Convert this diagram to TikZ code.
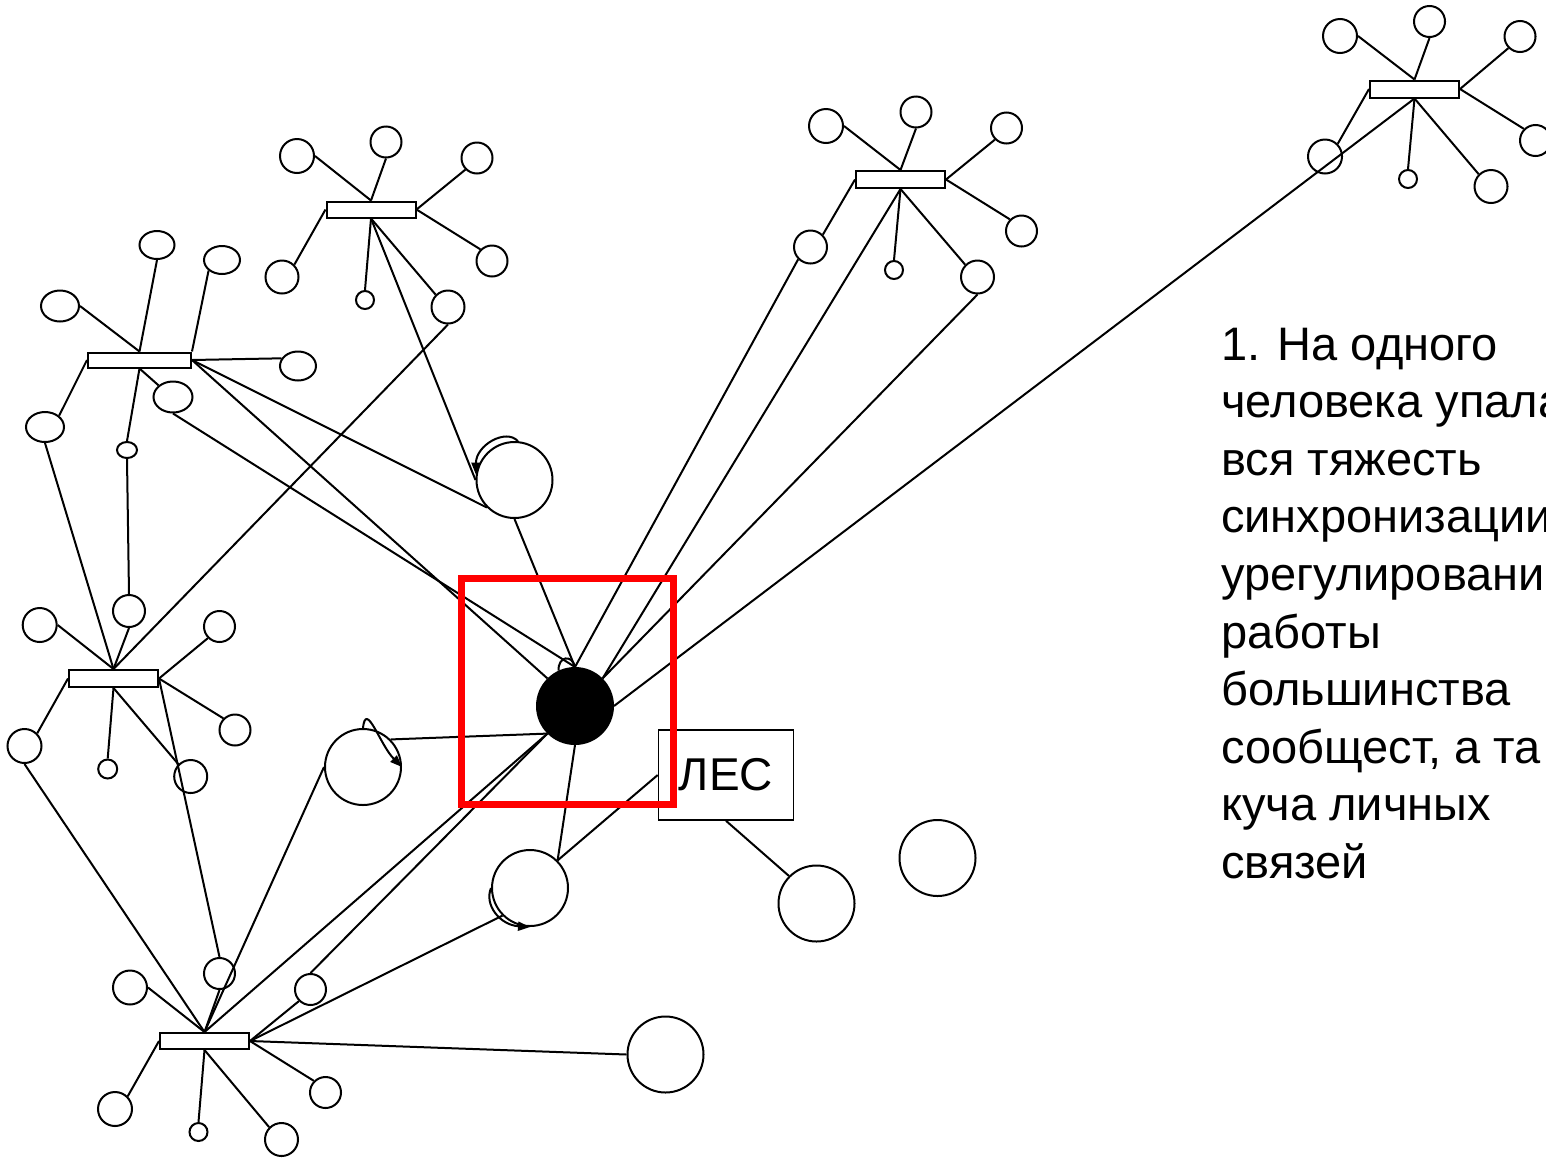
\documentclass[tikz,border=0pt]{standalone}
\usepackage{fontspec}
\setmainfont{Liberation Sans}
\usetikzlibrary{shapes.geometric,arrows.meta}
\tikzset{
  ln/.style={line width=2pt},
  circ/.style={circle, draw, line width=2pt, inner sep=0pt, minimum size=#1},
  ell/.style 2 args={ellipse, draw, line width=2pt, inner sep=0pt, minimum width=#1, minimum height=#2},
  hub/.style 2 args={rectangle, draw, line width=2pt, inner sep=0pt, minimum width=#1, minimum height=#2},
  arr/.style={line width=2pt, -{Triangle[length=12pt,width=9pt]}},
  txt/.style={anchor=base west, inner sep=0pt, font=\fontsize{47pt}{57.6pt}\selectfont},
}
\begin{document}
\begin{tikzpicture}[x=1pt,y=-1pt]
\useasboundingbox (0,0) rectangle (1546,1157);
\clip (0,0) rectangle (1546,1157);
\fill[white] (0,0) rectangle (1546,1157);

% ---------- hub 1
\node[hub={89pt}{16pt}] (h1) at (371,209.5) {};
\node[circ=34pt] (a1) at (297,156) {};
\node[circ=31pt] (a2) at (386,142) {};
\node[circ=31pt] (a3) at (477,158) {};
\node[circ=31pt] (a4) at (492,261) {};
\node[circ=33pt] (a5) at (282,277) {};
\node[circ=18pt] (a6) at (365,300) {};
\node[circ=33pt] (a7) at (448,307) {};
% ---------- hub 2
\node[hub={103pt}{15pt}] (h2) at (139.5,360) {};
\node[ell={38pt}{31pt}] (b1) at (60,306) {};
\node[ell={35pt}{28pt}] (b2) at (157,245) {};
\node[ell={36pt}{28pt}] (b3) at (222,260) {};
\node[ell={36pt}{29pt}] (b4) at (298,366) {};
\node[ell={39pt}{31pt}] (b5) at (173,397) {};
\node[ell={38pt}{30pt}] (b6) at (45,427) {};
\node[ell={20pt}{16pt}] (b7) at (127,450) {};
% ---------- hub 3
\node[hub={89pt}{17pt}] (h3) at (900.5,179.5) {};
\node[circ=34pt] (c1) at (826,126) {};
\node[circ=31pt] (c2) at (916,112) {};
\node[circ=31pt] (c3) at (1006.5,128) {};
\node[circ=31pt] (c4) at (1021.5,231) {};
\node[circ=33pt] (c5) at (810.5,247) {};
\node[circ=18pt] (c6) at (894,270) {};
\node[circ=33pt] (c7) at (977.5,277) {};
% ---------- hub 4
\node[hub={89pt}{17pt}] (h4) at (1414.5,89) {};
\node[circ=34pt] (d1) at (1340,36) {};
\node[circ=31pt] (d2) at (1429.5,21.5) {};
\node[circ=31pt] (d3) at (1520,36.5) {};
\node[circ=31pt] (d4) at (1535.5,140.5) {};
\node[circ=34pt] (d5) at (1325,156.5) {};
\node[circ=18pt] (d6) at (1408,179) {};
\node[circ=33pt] (d7) at (1491,186.5) {};
% ---------- hub 5
\node[hub={89pt}{17pt}] (h5) at (113.5,678.5) {};
\node[circ=34pt] (e1) at (39.7,625) {};
\node[circ=32pt] (e2) at (129,611) {};
\node[circ=31pt] (e3) at (219.5,626.5) {};
\node[circ=31pt] (e4) at (235,730) {};
\node[circ=34pt] (e5) at (24.5,746) {};
\node[circ=19pt] (e6) at (107.7,769) {};
\node[circ=33pt] (e7) at (190.7,776.5) {};
% ---------- hub 6
\node[hub={89pt}{16pt}] (h6) at (204.5,1041) {};
\node[circ=34pt] (f1) at (130,987.5) {};
\node[circ=31pt] (f2) at (219.5,973.5) {};
\node[circ=31pt] (f3) at (310.5,989.5) {};
\node[circ=31pt] (f4) at (325.5,1092.5) {};
\node[circ=34pt] (f5) at (115,1109) {};
\node[circ=18pt] (f6) at (198.5,1132) {};
\node[circ=33pt] (f7) at (281.5,1139.5) {};
% ---------- big circles
\node[circ=76pt] (L1) at (514.5,480) {};
\node[circ=76pt] (L2) at (363,767) {};
\node[circ=76pt] (L3) at (530,888) {};
\node[circ=76pt, fill=black] (B) at (575,706) {};
\node[circ=76pt] (g1) at (665.5,1054.5) {};
\node[circ=76pt] (g2) at (816.5,903.5) {};
\node[circ=76pt] (g3) at (937.5,858) {};
\node[rectangle, draw, line width=1.6pt, minimum width=135pt, minimum height=90pt, inner sep=0pt,
      font=\fontsize{46pt}{55pt}\selectfont] (les) at (726,775) {ЛЕС};

% ---------- connectors hub 1
\draw[ln] (a1.east) -- (h1.north);
\draw[ln] (a2.south) -- (h1.north);
\draw[ln] (a3.south west) -- (h1.east);
\draw[ln] (a4.north west) -- (h1.east);
\draw[ln] (a5.north east) -- (h1.west);
\draw[ln] (a6.north) -- (h1.south);
\draw[ln] (a7.north west) -- (h1.south);
% hub 2
\draw[ln] (b1.east) -- (h2.north);
\draw[ln] (b2.south) -- (h2.north);
\draw[ln] (b3.south west) -- (h2.north east);
\draw[ln] (b4.155) -- (h2.east);
\draw[ln] (b5.north west) -- (h2.south);
\draw[ln] (b7.north) -- (h2.south);
\draw[ln] (b6.north east) -- (h2.west);
% hub 3
\draw[ln] (c1.east) -- (h3.north);
\draw[ln] (c2.south) -- (h3.north);
\draw[ln] (c3.south west) -- (h3.east);
\draw[ln] (c4.north west) -- (h3.east);
\draw[ln] (c5.north east) -- (h3.west);
\draw[ln] (c6.north) -- (h3.south);
\draw[ln] (c7.north west) -- (h3.south);
% hub 4
\draw[ln] (d1.east) -- (h4.north);
\draw[ln] (d2.south) -- (h4.north);
\draw[ln] (d3.south west) -- (h4.east);
\draw[ln] (d4.north west) -- (h4.east);
\draw[ln] (d5.north east) -- (h4.west);
\draw[ln] (d6.north) -- (h4.south);
\draw[ln] (d7.north west) -- (h4.south);
% hub 5
\draw[ln] (e1.east) -- (h5.north);
\draw[ln] (e2.south) -- (h5.north);
\draw[ln] (e3.south west) -- (h5.east);
\draw[ln] (e4.north west) -- (h5.east);
\draw[ln] (e5.north east) -- (h5.west);
\draw[ln] (e6.north) -- (h5.south);
\draw[ln] (e7.north west) -- (h5.south);
% hub 6
\draw[ln] (f1.east) -- (h6.north);
\draw[ln] (f2.south) -- (h6.north);
\draw[ln] (f3.south west) -- (h6.east);
\draw[ln] (f4.north west) -- (h6.east);
\draw[ln] (f5.north east) -- (h6.west);
\draw[ln] (f6.north) -- (h6.south);
\draw[ln] (f7.north west) -- (h6.south);
% cross links
\draw[ln] (b6.south) -- (h5.north);
\draw[ln] (a7.south) -- (h5.north);
\draw[ln] (b7.south) -- (e2.north);
\draw[ln] (h5.east) -- (f2.north);
\draw[ln] (e5.south) -- (h6.north);
\draw[ln] (L2.west) -- (h6.north);
\draw[ln] (B.south west) -- (h6.north);
\draw[ln] (f3.north) -- (B.south west);
\draw[ln] (h6.east) -- (L3.south west);
\draw[ln] (h6.east) -- (g1.west);
\draw[ln] (h1.south) -- (L1.west);
\draw[ln] (h2.east) -- (L1.south west);
\draw[ln] (h2.east) -- (B.north west);
\draw[ln] (b5.south) -- (B.north);
\draw[ln] (L1.south) -- (B.north);
\draw[ln] (c5.south west) -- (B.north);
\draw[ln] (h3.south) -- (B.north east);
\draw[ln] (c7.south) -- (B.north east);
\draw[ln] (h4.south) -- (B.east);
\draw[ln] (L2.north east) -- (B.south west);
\draw[ln] (B.south) -- (L3.north east);
\draw[ln] (L3.north east) -- (les.west);
\draw[ln] (les.south) -- (g2.north west);

% ---------- self loops
\draw[arr] (L1.85) .. controls (506,428) and (476,445) .. (L1.172);
\draw[arr] (L2.north) .. controls (366,700) and (380,745) .. (L2.east);
\draw[arr] (L3.west) .. controls (484,905) and (500,925) .. (L3.south);
\draw[ln] (B.115) .. controls (558,656) and (572,654) .. (B.north);

% ---------- red frame
\node[rectangle, draw=red, line width=7pt, minimum width=212pt, minimum height=226pt, inner sep=0pt] (frame) at (567.5,691.5) {};

% ---------- text
\node[txt] (t1) at (1221,360) {1. На одного};
\node[txt] (t2) at (1221,417.6) {человека упала};
\node[txt] (t3) at (1221,475.2) {вся тяжесть};
\node[txt] (t4) at (1221,532.8) {синхронизации};
\node[txt] (t5) at (1221,590.4) {урегулировани};
\node[txt] (t6) at (1221,648) {работы};
\node[txt] (t7) at (1221,705.6) {большинства};
\node[txt] (t8) at (1221,763.2) {сообщест, а та};
\node[txt] (t9) at (1221,820.8) {куча личных};
\node[txt] (t10) at (1221,878.4) {связей};
\end{tikzpicture}
\end{document}
